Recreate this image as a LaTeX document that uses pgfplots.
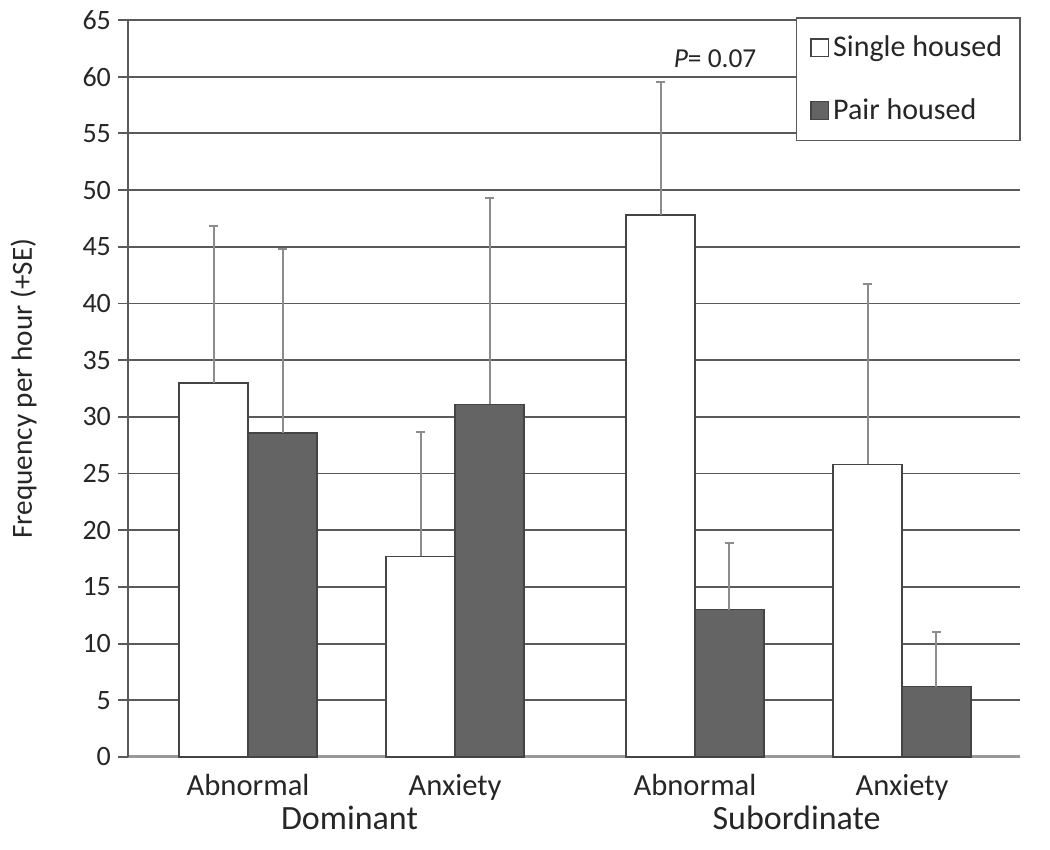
\documentclass[border=0pt]{standalone}
\usepackage{fontspec}
\setmainfont{Carlito}
\usepackage{pgfplots}
\pgfplotsset{compat=1.18}

\definecolor{gridgray}{HTML}{5A5A5A}
\definecolor{pairfill}{HTML}{646464}
\definecolor{barline}{HTML}{444444}
\definecolor{errgray}{HTML}{8C8C8C}

\begin{document}
\begin{tikzpicture}
\useasboundingbox (-64pt,-46.5pt) rectangle (461pt,378.5pt);
\begin{axis}[
    scale only axis,
    width=446pt, height=368.5pt,
    ybar=0pt, bar width=0.333,
    xmin=-0.58, xmax=3.729,
    ymin=0, ymax=65,
    ytick={0,5,...,65},
    xtick={0,1,2.159,3.159},
    xticklabels={Abnormal,Anxiety,Abnormal,Anxiety},
    major x tick style={draw=none},
    axis x line*=bottom, axis y line*=left,
    x axis line style={draw=gray!80, line width=1.5pt, -},
    y axis line style={draw=gridgray, line width=0.9pt, -},
    ymajorgrids, grid style={draw=gridgray, line width=0.9pt},
    tick align=outside, major tick length=5pt,
    y tick style={draw=gridgray, line width=0.9pt},
    /pgf/number format/assume math mode=true,
    yticklabel style={font=\fontsize{14}{16}\selectfont, text=black!85},
    xticklabel style={font=\fontsize{15.3}{17}\selectfont, text=black!85, yshift=0pt},
    ylabel={Frequency per hour (+SE)},
    ylabel style={at={(axis description cs:-0.117,0.5)}, anchor=center, font=\fontsize{14.6}{16}\selectfont, text=black!85},
    clip=false,
    error bars/y dir=plus, error bars/y explicit,
    error bars/error bar style={draw=errgray, line width=1pt},
    error bars/error mark options={draw=errgray, line width=1pt, rotate=90, mark size=2.3pt},
    legend style={at={(rel axis cs:1.001,1.004)}, anchor=north east,
        draw=gridgray, line width=0.8pt, fill=white,
        font=\fontsize{15}{17}\selectfont, text=black!85,
        row sep=15.5pt, inner xsep=7pt, inner ysep=7pt,
        cells={anchor=west}},
    legend image code/.code={\draw[#1, line width=0.6pt] (0pt,-4.4pt) rectangle (8.8pt,4.4pt);},
]
\addplot[draw=barline, fill=white, line width=0.8pt] coordinates {
    (0,33.0) +- (0,13.8)
    (1,17.7) +- (0,11.0)
    (2.159,47.8) +- (0,11.7)
    (3.159,25.8) +- (0,15.9)
};
\addlegendentry{Single housed}
\addplot[draw=barline, fill=pairfill, line width=0.8pt] coordinates {
    (0,28.6) +- (0,16.2)
    (1,31.1) +- (0,18.2)
    (2.159,13.0) +- (0,5.9)
    (3.159,6.2) +- (0,4.8)
};
\addlegendentry{Pair housed}
\node[font=\fontsize{13.7}{15}\selectfont, text=black!85] at (axis cs:2.256,61.6) {\textit{P}= 0.07};
\node[font=\fontsize{17}{19}\selectfont, text=black!85] at (axis cs:0.49,0) [yshift=-30.5pt] {Dominant};
\node[font=\fontsize{17}{19}\selectfont, text=black!85] at (axis cs:2.65,0) [yshift=-30.5pt] {Subordinate};
\end{axis}
\end{tikzpicture}
\end{document}
